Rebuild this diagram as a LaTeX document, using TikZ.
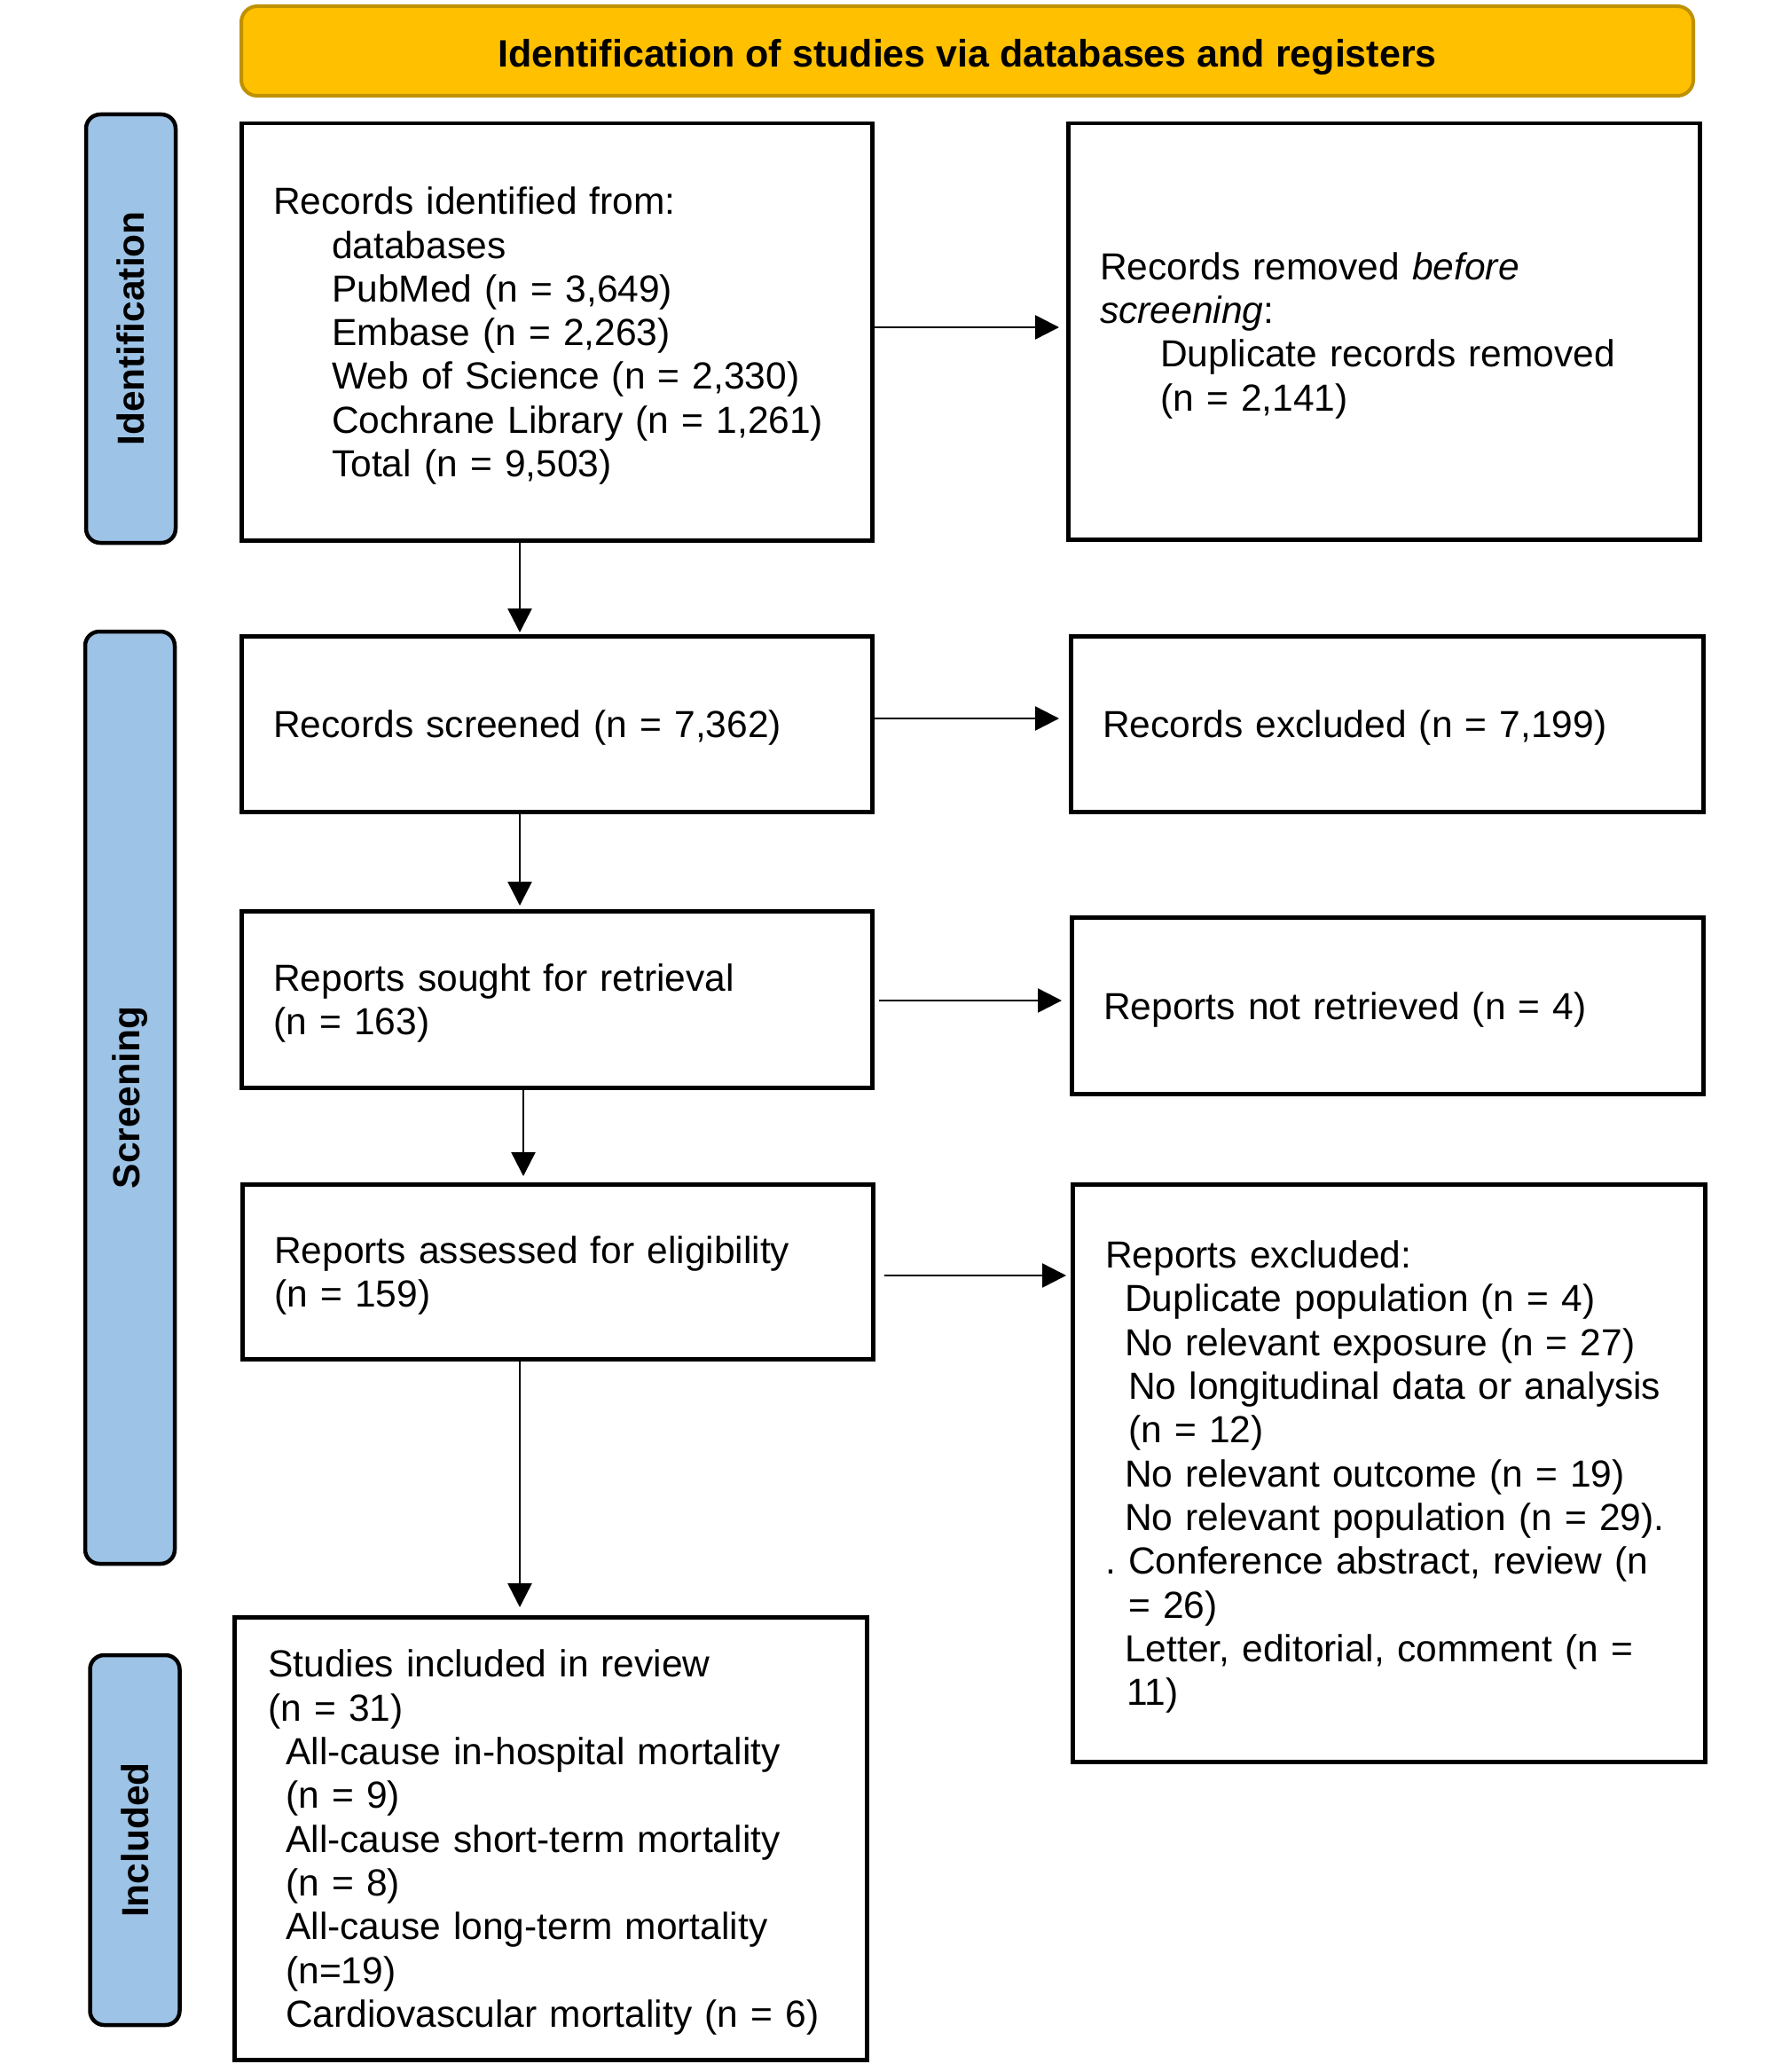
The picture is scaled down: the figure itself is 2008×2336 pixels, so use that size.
\documentclass[tikz,border=0pt]{standalone}
\usepackage{fontspec}
\setmainfont{Liberation Sans}
\usetikzlibrary{arrows.meta,calc}
\definecolor{bannerfill}{HTML}{FFC000}
\definecolor{bannerline}{HTML}{BF9000}
\definecolor{phasefill}{HTML}{9DC3E6}
\frenchspacing
\tikzset{
  flowbox/.style={draw=black, line width=4.5pt, fill=white, anchor=north west,
    inner xsep=36pt, inner ysep=0pt, align=left, text width=#1,
    font=\fontsize{42.5}{49.3}\selectfont\frenchspacing},
  phase/.style={draw=black, line width=4.5pt, fill=phasefill, rounded corners=16pt,
    rotate=90, minimum height=101pt, inner sep=0pt,
    font=\fontsize{42.5}{49.3}\selectfont\bfseries},
  banner/.style={draw=bannerline, line width=4pt, fill=bannerfill, rounded corners=18pt,
    minimum width=1637pt, minimum height=101pt, inner sep=0pt,
    text height=37pt, text depth=0pt,
    font=\fontsize{43}{50}\selectfont\bfseries},
  arrowline/.style={line width=2.5pt, -{Triangle[length=27pt,width=27pt]}}
}
\begin{document}
\begin{tikzpicture}[x=1pt,y=-1pt]
\path[fill=white] (0,0) rectangle (2008,2336);
\useasboundingbox (0,0) rectangle (2008,2336);

\node[banner] (ban) at (1090.5,57.5) {Identification of studies via databases and registers};

\node[phase, minimum width=483pt] (pid) at (147.5,370.5) {Identification};
\node[phase, minimum width=1051pt] (pscr) at (146.5,1237.5) {Screening};
\node[phase, minimum width=417pt] (pinc) at (152,2074.5) {Included};

\node[flowbox=639pt, minimum height=470pt, text depth=295.8pt] (b1) at (270,137) {Records identified from:\\
\hspace*{66pt}databases\\
\hspace*{66pt}PubMed (n = 3,649)\\
\hspace*{66pt}Embase (n = 2,263)\\
\hspace*{66pt}Web of Science (n = 2,330)\\
\hspace*{66pt}Cochrane Library (n = 1,261)\\
\hspace*{66pt}Total (n = 9,503)};

\node[flowbox=640pt, minimum height=469pt, text depth=147.9pt] (rem) at (1202,137) {Records removed \textit{before}\\
\textit{screening}:\\
\hspace*{68pt}Duplicate records removed\\
\hspace*{68pt}(n = 2,141)};

\node[flowbox=639pt, minimum height=198pt, text depth=0pt] (scr) at (270,715) {Records screened (n = 7,362)};
\node[flowbox=641pt, minimum height=198pt, text depth=0pt] (exc) at (1205,715) {Records excluded (n = 7,199)};

\node[flowbox=639pt, minimum height=199pt, text depth=49.3pt] (sou) at (270,1025) {Reports sought for retrieval\\(n = 163)};
\node[flowbox=640pt, minimum height=199pt, text depth=0pt] (nre) at (1206,1032) {Reports not retrieved (n = 4)};

\node[flowbox=639pt, minimum height=197pt, text depth=49.3pt] (ass) at (271,1333) {Reports assessed for eligibility\\(n = 159)};

\node[flowbox=639pt, inner xsep=37pt, minimum height=651pt, text depth=493pt] (rex) at (1207,1333) {Reports excluded:\\
\hspace*{22pt}Duplicate population (n = 4)\\
\hspace*{22pt}No relevant exposure (n = 27)\\
\hspace*{26pt}No longitudinal data or analysis\\
\hspace*{26pt}(n = 12)\\
\hspace*{22pt}No relevant outcome (n = 19)\\
\hspace*{22pt}No relevant population (n = 29).\\
. Conference abstract, review (n\\
\hspace*{26pt}= 26)\\
\hspace*{22pt}Letter, editorial, comment (n =\\
\hspace*{24pt}11)};

\node[flowbox=637pt, inner xsep=38pt, minimum height=499pt, text depth=394.4pt] (inc) at (262,1821) {Studies included in review\\
(n = 31)\\
\hspace*{20pt}All-cause in-hospital mortality\\
\hspace*{20pt}(n = 9)\\
\hspace*{20pt}All-cause short-term mortality\\
\hspace*{20pt}(n = 8)\\
\hspace*{20pt}All-cause long-term mortality\\
\hspace*{20pt}(n=19)\\
\hspace*{20pt}Cardiovascular mortality (n = 6)};

\coordinate (xa) at (586,0);
\coordinate (xb) at (590,0);
\coordinate (ya) at (0,369);
\coordinate (yb) at (0,810);
\coordinate (yc) at (0,1128);
\coordinate (yd) at (0,1438);

\draw[arrowline, shorten >=2pt] (b1.south -| xa) -- (scr.north -| xa);
\draw[arrowline, shorten >=4pt] (scr.south -| xa) -- (sou.north -| xa);
\draw[arrowline, shorten >=7pt] (sou.south -| xb) -- (ass.north -| xb);
\draw[arrowline, shorten >=9pt] (ass.south -| xa) -- (inc.north -| xa);

\draw[arrowline, shorten >=8pt] (b1.east |- ya) -- (rem.west |- ya);
\draw[arrowline, shorten >=11pt] (scr.east |- yb) -- (exc.west |- yb);
\draw[arrowline, shorten <=5pt, shorten >=9pt] (sou.east |- yc) -- (nre.west |- yc);
\draw[arrowline, shorten <=10pt, shorten >=5pt] (ass.east |- yd) -- (rex.west |- yd);
\end{tikzpicture}
\end{document}
